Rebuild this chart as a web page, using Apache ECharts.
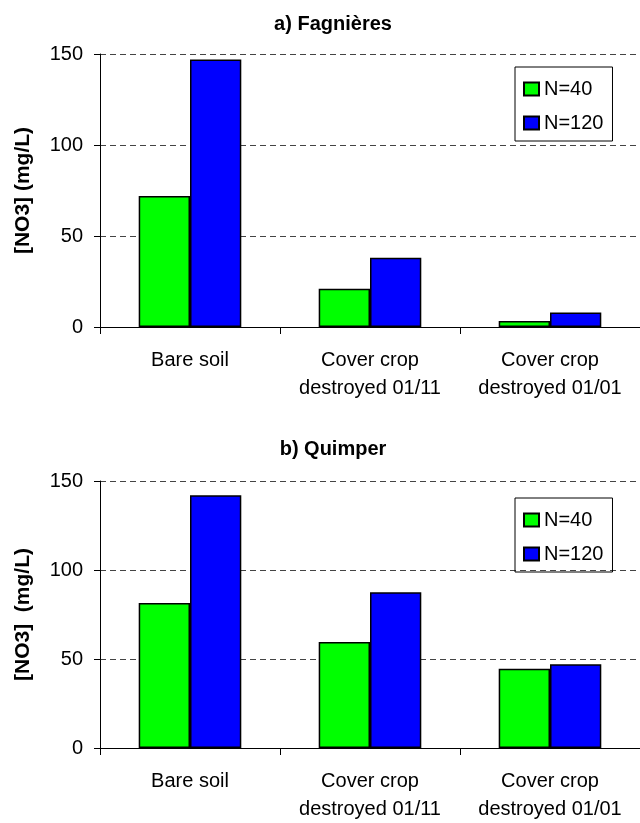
<!DOCTYPE html>
<html><head><meta charset="utf-8">
<script src="https://cdn.jsdelivr.net/npm/echarts@6/dist/echarts.min.js"></script>
<style>html,body{margin:0;padding:0;background:#fff}#c{width:640px;height:823px}</style>
</head><body><div id="c"></div>
<script>
const categories = ['Bare soil', 'Cover crop\ndestroyed 01/11', 'Cover crop\ndestroyed 01/01'];
const seriesNames = ['N=40', 'N=120'];
const fagnieresN40 = [72, 21, 3.3];
const fagnieresN120 = [147, 38, 8];
const quimperN40 = [81.5, 59.5, 44.5];
const quimperN120 = [142, 87.5, 47];
const yTicks = [0, 50, 100, 150];
const titles = ['a) Fagnières', 'b) Quimper'];
const yNames = ['[NO3] (mg/L)', '[NO3]  (mg/L)'];

const font = 'Liberation Sans, Arial, sans-serif';
const colors = ['#00FF00', '#0000FF'];
const grids = [{left:100, top:54, width:540, height:273}, {left:100, top:481, width:540, height:274}];

function xAx(i){return {type:'category', gridIndex:i, data:categories,
  axisLine:{lineStyle:{color:'#000', width:1}},
  axisTick:{show:true, length:7, lineStyle:{color:'#000', width:1}},
  axisLabel:{interval:0, hideOverlap:false, color:'#000', fontFamily:font, fontSize:20, lineHeight:28, margin:19}};}
function yAx(i){return {type:'value', gridIndex:i, min:yTicks[0], max:yTicks[yTicks.length-1], interval:yTicks[1]-yTicks[0],
  name:yNames[i], nameLocation:'middle', nameGap:66, nameRotate:90,
  nameTextStyle:{color:'#000', fontFamily:font, fontSize:21, fontWeight:'bold'},
  axisLine:{show:true, lineStyle:{color:'#000'}},
  axisTick:{show:true, length:6, lineStyle:{color:'#000'}},
  axisLabel:{color:'#000', fontFamily:font, fontSize:20, margin:17},
  splitLine:{lineStyle:{color:'#444', type:[6,4]}}};}
function ser(name, data, i, c){return {name:name, type:'bar', xAxisIndex:i, yAxisIndex:i, data:data,
  barGap:'0%', barCategoryGap:'43%', itemStyle:{color:colors[c], borderColor:'#000', borderWidth:1.5}};}
function leg(i, top){return {show:true, orient:'vertical', left:515, top:top,
  data:seriesNames, icon:'rect', itemWidth:15, itemHeight:13, itemGap:14,
  padding:[12,9,8,8],
  borderColor:'#000', borderWidth:1,
  textStyle:{color:'#000', fontFamily:font, fontSize:20},
  selectedMode:false};}

const chart = echarts.init(document.getElementById('c'), null, {renderer:'canvas'});
chart.setOption({
  animation:false,
  backgroundColor:'#fff',
  title:[
    {text:titles[0], left:333, top:14, padding:0, textAlign:'center', textStyle:{fontFamily:font, fontSize:20, fontWeight:'bold', color:'#000'}},
    {text:titles[1], left:333, top:439, padding:0, textAlign:'center', textStyle:{fontFamily:font, fontSize:20, fontWeight:'bold', color:'#000'}}
  ],
  grid:grids,
  legend:[leg(0, 67), leg(1, 498)],
  xAxis:[xAx(0), xAx(1)],
  yAxis:[yAx(0), yAx(1)],
  series:[
    ser(seriesNames[0], fagnieresN40, 0, 0),
    ser(seriesNames[1], fagnieresN120, 0, 1),
    ser(seriesNames[0], quimperN40, 1, 0),
    ser(seriesNames[1], quimperN120, 1, 1)
  ]
});
</script></body></html>
